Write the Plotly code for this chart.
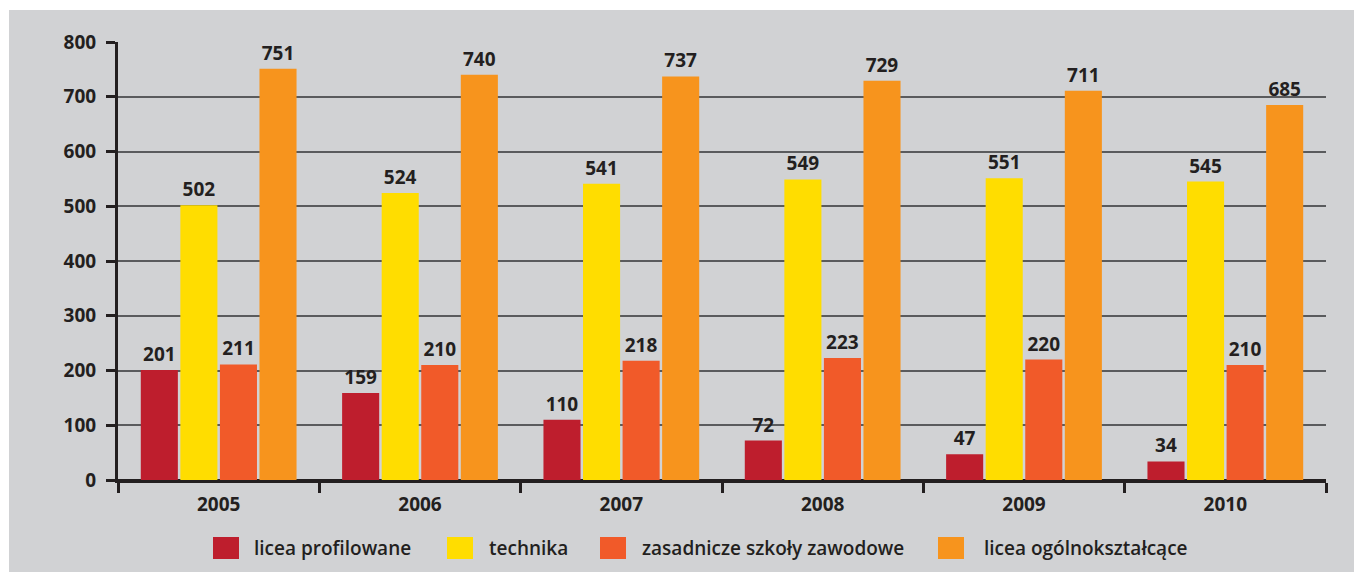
import plotly.graph_objects as go

years = ["2005", "2006", "2007", "2008", "2009", "2010"]
series_names = ["licea profilowane", "technika", "zasadnicze szkoły zawodowe", "licea ogólnokształcące"]
licea_profilowane = [201, 159, 110, 72, 47, 34]
technika = [502, 524, 541, 549, 551, 545]
zasadnicze = [211, 210, 218, 223, 220, 210]
licea_ogolne = [751, 740, 737, 729, 711, 685]
y_ticks = [0, 100, 200, 300, 400, 500, 600, 700, 800]

series_values = [licea_profilowane, technika, zasadnicze, licea_ogolne]
colors = ["#BE1E2D", "#FFDD00", "#F15A29", "#F7941D"]

# page body has an 8px margin; work in screen pixels and subtract it
OFF = 8
W, H = 1362 - OFF, 572 - OFF
ML, MR, MT, MB = 118 - OFF, 36, 42 - OFF, 92
PW, PH = W - ML - MR, H - MT - MB
TXT = "#231F20"
FONT = "Open Sans"


def px_x(x):
    return (x - OFF - ML) / PW


def px_y(y):
    return (H - MB - (y - OFF)) / PH


fig = go.Figure()
for name, vals, col in zip(series_names, series_values, colors):
    fig.add_trace(go.Bar(
        x=years, y=vals, name=name, marker=dict(color=col, line=dict(width=0)),
        text=[str(v) for v in vals], textposition="outside", cliponaxis=False,
        constraintext="none",
        textfont=dict(family=FONT, size=19, color=TXT, weight=700),
        showlegend=False,
    ))

shapes = [dict(type="rect", xref="paper", yref="paper", layer="below",
               x0=px_x(9), x1=px_x(1400), y0=px_y(620), y1=px_y(10),
               fillcolor="#D1D2D4", line=dict(width=0))]
annotations = []
sq_x = [213, 447, 600, 938]
tx_x = [252, 487, 640, 982]
for name, col, sx, tx in zip(series_names, colors, sq_x, tx_x):
    shapes.append(dict(type="rect", xref="paper", yref="paper",
                       x0=px_x(sx), x1=px_x(sx + 26), y0=px_y(559), y1=px_y(537),
                       fillcolor=col, line=dict(width=0)))
    annotations.append(dict(xref="paper", yref="paper", x=px_x(tx), y=px_y(548),
                            xanchor="left", yanchor="middle", showarrow=False,
                            text=name, font=dict(family=FONT, size=19, color=TXT, weight=600)))

fig.update_layout(
    width=W, height=H,
    margin=dict(l=ML, r=MR, t=MT, b=MB, pad=0),
    paper_bgcolor="white", plot_bgcolor="#D1D2D4",
    barmode="group", bargap=0.214, bargroupgap=0.063,
    font=dict(family=FONT, color=TXT),
    shapes=shapes, annotations=annotations,
    showlegend=False,
)
fig.update_xaxes(
    type="category", tickson="boundaries", ticks="outside", ticklen=10, tickwidth=3,
    tickcolor=TXT, showline=True, linecolor=TXT, linewidth=3, showgrid=False,
    tickfont=dict(family=FONT, size=19, color=TXT, weight=700),
    range=[-0.5, 5.5], ticklabelstandoff=5,
)
fig.update_yaxes(
    range=[0, 800], tickvals=y_ticks, ticks="outside", ticklen=9, tickwidth=3,
    tickcolor=TXT, showline=True, linecolor=TXT, linewidth=3,
    showgrid=True, gridcolor="#5A5B5D", gridwidth=1.5,
    zeroline=True, zerolinecolor=TXT, zerolinewidth=3,
    tickfont=dict(family=FONT, size=19, color=TXT, weight=700),
    ticklabelstandoff=6,
)

fig.write_html("out.html")
